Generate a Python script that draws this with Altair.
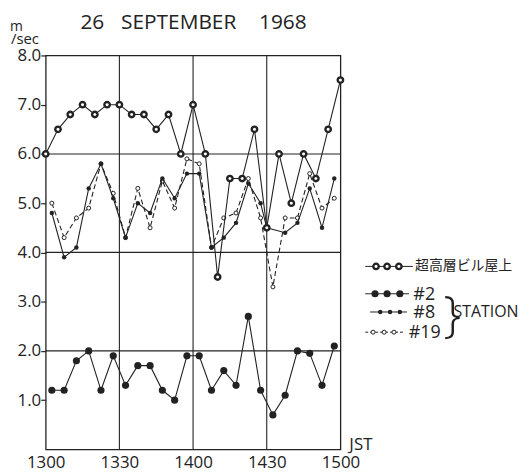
import altair as alt
import pandas as pd

# ---------------- data (minutes after 13:00, m/sec) ----------------
ROOF_T = [0, 5, 10, 15, 20, 25, 30, 35, 40, 45, 50, 55, 60,
          65, 70, 75, 80, 85, 90, 95, 100, 105, 110, 115, 120]
ROOF = [6.0, 6.5, 6.8, 7.0, 6.8, 7.0, 7.0, 6.8, 6.8, 6.5, 6.8, 6.0, 7.0,
        6.0, 3.5, 5.5, 5.5, 6.5, 4.5, 6.0, 5.0, 6.0, 5.5, 6.5, 7.5]

ST_T = [2.5, 7.5, 12.5, 17.5, 22.5, 27.5, 32.5, 37.5, 42.5, 47.5, 52.5, 57.5,
        62.5, 67.5, 72.5, 77.5, 82.5, 87.5, 92.5, 97.5, 102.5, 107.5, 112.5, 117.5]
ST2 = [1.2, 1.2, 1.8, 2.0, 1.2, 1.9, 1.3, 1.7, 1.7, 1.2, 1.0, 1.9,
       1.9, 1.2, 1.6, 1.3, 2.7, 1.2, 0.7, 1.1, 2.0, 1.95, 1.3, 2.1]

ST8_T = [2.5, 7.5, 12.5, 17.5, 22.5, 27.5, 32.5, 37.5, 42.5, 47.5, 52.5, 57.5,
         62.5, 67.5, 72.5, 77.5, 82.5, 87.5, 90.0, 97.5, 102.5, 107.5, 112.5, 117.5]
ST8 = [4.8, 3.9, 4.1, 5.3, 5.8, 5.1, 4.3, 5.0, 4.8, 5.5, 5.1, 5.6,
       5.6, 4.1, 4.3, 4.6, 5.4, 5.0, 4.5, 4.4, 4.6, 5.3, 4.5, 5.5]

ST19 = [5.0, 4.3, 4.7, 4.9, 5.8, 5.2, 4.3, 5.3, 4.5, 5.45, 4.9, 5.9,
        5.8, 4.1, 4.7, 4.8, 5.5, 4.7, 3.3, 4.7, 4.7, 5.6, 4.9, 5.1]

X_TICKS = [0, 30, 60, 90, 120]
Y_TICKS = [1, 2, 3, 4, 5, 6, 7, 8]
GRID_X = [30, 60, 90]
GRID_Y = [2, 4, 6]

LEGEND_LABELS = ["超高層ビル屋上", "#2", "#8", "#19"]
TITLE_WORDS = ["26", "SEPTEMBER", "1968"]

# ---------------- layout / style ----------------
INK = "#222222"
FONT = "Open Sans"
JFONT = "Noto Sans CJK JP"

# legend rows, in the chart's own data units (minutes, m/sec)
LEG_Y = [3.716, 3.16, 2.79, 2.38]
LEG_LINE = [(130.1, 149.5), (130.1, 147.9), (132.1, 147.1), (130.1, 145.5)]
LEG_DOTS = [[134.5, 139.0, 143.8], [134.1, 139.0, 144.2],
            [136.2, 140.2, 144.2], [133.3, 137.8, 141.8]]
LEG_TEXT_X = [150.4, 149.7, 149.7, 147.8]

roof_df = pd.DataFrame({"t": ROOF_T, "v": ROOF})
st2_df = pd.DataFrame({"t": ST_T, "v": ST2})
st8_df = pd.DataFrame({"t": ST8_T, "v": ST8})
st19_df = pd.DataFrame({"t": ST_T, "v": ST19})

x_enc = alt.X(
    "t:Q",
    scale=alt.Scale(domain=[0, 120], nice=False, zero=False),
    axis=alt.Axis(
        values=X_TICKS, title=None, grid=False, domain=False, ticks=False,
        labelExpr="toString(1300 + floor(datum.value/60)*100 + datum.value%60)",
        labelFont=FONT, labelFontSize=17, labelColor=INK, labelPadding=5,
        labelFlush=False,
    ),
)
y_enc = alt.Y(
    "v:Q",
    scale=alt.Scale(domain=[0, 8], nice=False),
    axis=alt.Axis(
        values=Y_TICKS, title=None, grid=False, domain=False, format=".1f",
        tickSize=5, tickColor=INK, tickWidth=1.2,
        labelFont=FONT, labelFontSize=17, labelColor=INK, labelPadding=0,
    ),
)


def series_layers(df, line_kw, point_kw):
    line = alt.Chart(df).mark_line(color=INK, strokeWidth=1.1, **line_kw).encode(x=x_enc, y=y_enc)
    pts = alt.Chart(df).mark_point(shape="circle", opacity=1, **point_kw).encode(x=x_enc, y=y_enc)
    return [line, pts]


ROOF_PT = dict(size=30, filled=False, fill="white", stroke=INK, strokeWidth=2.4)
ST2_PT = dict(size=52, filled=True, color=INK, strokeWidth=0)
ST8_PT = dict(size=20, filled=True, color=INK, strokeWidth=0)
ST19_PT = dict(size=16, filled=False, fill="white", stroke=INK, strokeWidth=1)

grid_y = alt.Chart(pd.DataFrame({"v": GRID_Y})).mark_rule(color=INK, strokeWidth=1.1).encode(y=y_enc)
grid_x = alt.Chart(pd.DataFrame({"t": GRID_X})).mark_rule(color=INK, strokeWidth=1.1).encode(x=x_enc)

layers = [grid_y, grid_x]
layers += series_layers(st19_df, dict(strokeDash=[5, 3]), ST19_PT)
layers += series_layers(st8_df, {}, ST8_PT)
layers += series_layers(st2_df, {}, ST2_PT)
layers += series_layers(roof_df, {}, ROOF_PT)

# ---------------- legend (drawn through the same scales) ----------------
leg_styles = [ROOF_PT, ST2_PT, ST8_PT, ST19_PT]
leg_dash = [None, None, None, [3, 2]]
for i in range(4):
    seg = pd.DataFrame({"t": [LEG_LINE[i][0]], "t2": [LEG_LINE[i][1]], "v": [LEG_Y[i]]})
    kw = dict(color=INK, strokeWidth=1)
    if leg_dash[i]:
        kw["strokeDash"] = leg_dash[i]
    layers.append(alt.Chart(seg).mark_rule(**kw).encode(x=x_enc, x2="t2:Q", y=y_enc))
    dots = pd.DataFrame({"t": LEG_DOTS[i], "v": [LEG_Y[i]] * 3})
    layers.append(alt.Chart(dots).mark_point(shape="circle", opacity=1, **leg_styles[i]).encode(x=x_enc, y=y_enc))
    lab = pd.DataFrame({"t": [LEG_TEXT_X[i]], "v": [LEG_Y[i]], "s": [LEGEND_LABELS[i]]})
    layers.append(
        alt.Chart(lab).mark_text(
            align="left", baseline="middle", color=INK,
            font=JFONT if i == 0 else FONT, fontSize=14 if i == 0 else 18,
            dy=0 if i == 0 else 1,
        ).encode(x=x_enc, y=y_enc, text="s:N")
    )

# ---------------- annotations ----------------
def note(txt, x, y, size, align="left", baseline="alphabetic", font=FONT, weight="normal"):
    return alt.Chart(pd.DataFrame({"s": [txt]})).mark_text(
        align=align, baseline=baseline, color=INK, font=font, fontSize=size, fontWeight=weight
    ).encode(x=alt.value(x), y=alt.value(y), text="s:N")

layers.append(note(TITLE_WORDS[0], 47, -27, 21, align="center"))
layers.append(note(TITLE_WORDS[1], 134, -27, 21, align="center"))
layers.append(note(TITLE_WORDS[2], 239, -27, 21, align="center"))
layers.append(note("m", -36, -25, 14))
layers.append(note("/sec", -35, -12, 15))
layers.append(note("JST", 306, 398, 17))
layers.append(note("}", 401, 264, 50, baseline="middle", weight=200))
layers.append(note("STATION", 411, 259, 16, baseline="middle"))

chart = alt.layer(*layers).properties(
    width=297,
    height=397,
    padding={"left": 38, "top": 46, "right": 185, "bottom": 22},
    autosize=alt.AutoSizeParams(type="none"),
    background="white",
).configure_view(stroke=INK, strokeWidth=1.3)

chart.save("out.html", embed_options={"renderer": "svg", "actions": False})
